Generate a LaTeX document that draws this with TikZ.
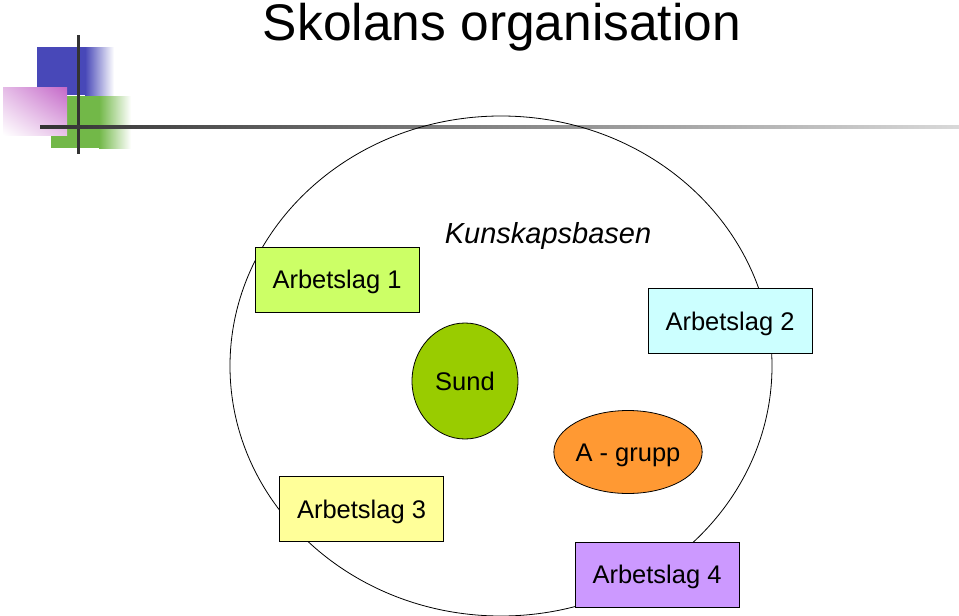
\documentclass[tikz,border=0pt]{standalone}
\usepackage{fontspec}
\setmainfont{Liberation Sans}
\usetikzlibrary{shapes.geometric,shadings}
\definecolor{lagett}{HTML}{CCFF66}
\definecolor{lagtva}{HTML}{CCFFFF}
\definecolor{lagtre}{HTML}{FFFF99}
\definecolor{lagfyra}{HTML}{CC99FF}
\definecolor{sundgron}{HTML}{99CC00}
\definecolor{grupporange}{HTML}{FF9933}
\definecolor{dekblue}{HTML}{4848B8}
\definecolor{dekgreen}{HTML}{72B848}
\definecolor{dekpink}{HTML}{C468C8}

\begin{document}
\begin{tikzpicture}[x=1pt,y=-1pt,
	lag/.style={draw, line width=0.8pt, minimum width=164pt, minimum height=65pt, inner sep=0pt, text height=18pt, text depth=0pt, font=\fontsize{25.5}{30}\selectfont},
	grupp/.style={draw, ellipse, line width=0.8pt, inner sep=0pt, text height=18pt, text depth=0pt, font=\fontsize{25.5}{30}\selectfont}]
\useasboundingbox (0,0) rectangle (959,616);
% decoration
\fill[dekblue] (37,47) rectangle (86,95);
\shade[left color=dekblue, right color=white] (85,47) rectangle (114,95);
\fill[dekgreen] (51,96) rectangle (100,148);
\shade[left color=dekgreen, right color=white] (99,96) rectangle (131,148);
\shade[upper right=dekpink, upper left=dekpink!45, lower right=dekpink!40, lower left=white] (3,87) rectangle (67,135);
\draw[line width=3pt, black!80] (78,35) -- (78,154);
\shade[left color=black!80, right color=black!15] (40,125.5) rectangle (959,128.5);
% title
\node[anchor=base, inner sep=0pt, font=\fontsize{51.5}{60}\selectfont] (rubrik) at (502,40.5) {Skolans organisation};
% base
\draw[line width=0.8pt] (501,366) ellipse [x radius=271, y radius=250];
\node[anchor=base, inner sep=0pt, font=\fontsize{29}{34}\selectfont\itshape] (basen) at (548,243) {Kunskapsbasen};
\node[lag, fill=lagett] (lag1) at (337,279.5) {Arbetslag 1};
\node[lag, fill=lagtva] (lag2) at (730,321) {Arbetslag 2};
\node[lag, fill=lagtre] (lag3) at (361.5,509) {Arbetslag 3};
\node[lag, fill=lagfyra] (lag4) at (657,574.5) {Arbetslag 4};
\node[grupp, fill=sundgron, minimum width=106pt, minimum height=116pt] (sund) at (465,381) {Sund};
\node[grupp, fill=grupporange, minimum width=124pt, minimum height=83pt] (agrupp) at (628,452) {A - grupp};
\end{tikzpicture}
\end{document}
